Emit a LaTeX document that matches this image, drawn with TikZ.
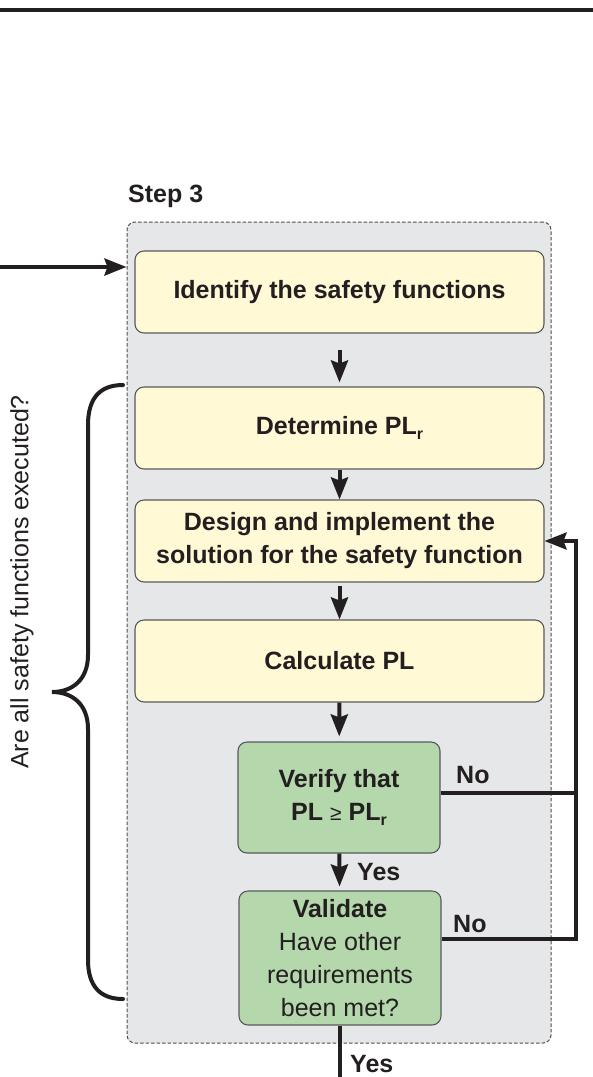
\documentclass[tikz,border=0pt]{standalone}
\usepackage{fontspec}
\setmainfont{Liberation Sans}
\usetikzlibrary{arrows.meta,calc}
\definecolor{ink}{HTML}{231F20}
\definecolor{boxyellow}{HTML}{FFF9D6}
\definecolor{boxgreen}{HTML}{B4D8AC}
\definecolor{panelgray}{HTML}{E6E7E8}
\definecolor{edgegray}{HTML}{58595B}
\definecolor{dashgray}{HTML}{4D4D4F}
\newcommand{\subr}{\raisebox{-0.22em}{\fontsize{16}{16}\selectfont r}}
\begin{document}
\begin{tikzpicture}[x=1pt,y=-1pt,
  yellowbox/.style={draw=edgegray, line width=1.1pt, fill=boxyellow, rounded corners=9pt,
    minimum width=409pt, minimum height=82pt, text=ink,
    font=\fontsize{25}{33}\selectfont\bfseries, align=center, inner sep=0pt},
  greenbox/.style={yellowbox, fill=boxgreen, minimum width=202pt},
  panel/.style={draw=dashgray, line width=1pt, dash pattern=on 3.5pt off 2pt, fill=panelgray,
    rounded corners=8pt, minimum width=424pt, minimum height=821pt, inner sep=0pt},
  flow/.style={draw=ink, line width=4pt, -{Stealth[length=22pt,width=17pt,inset=3pt]}},
  wire/.style={draw=ink, line width=3.6pt, line join=miter},
  lbl/.style={font=\fontsize{25}{30}\selectfont\bfseries, text=ink, inner sep=0pt}
]
\useasboundingbox (0,0) rectangle (593,1077);
\fill[ink] (0,8) rectangle (593,12);

\node[lbl, anchor=base west] (step) at (128,202) {Step 3};
\node[panel] (cont) at (339,632.5) {};

\node[yellowbox] (b1) at (339.5,292) {Identify the safety functions};
\node[yellowbox] (b2) at (339.5,428) {Determine PL\subr};
\node[yellowbox] (b3) at (339.5,541) {Design and implement the\\solution for the safety function};
\node[yellowbox] (b4) at (339.5,661) {Calculate PL};
\node[greenbox, minimum height=111pt] (b5) at (339,797.5) {Verify that\\PL {\mdseries\fontsize{21}{21}\selectfont ≥} PL\subr};
\node[greenbox, minimum height=134pt] (b6) at (340,958) {Validate\\\mdseries Have other\\\mdseries requirements\\\mdseries been met?};

% entry arrow
\coordinate (src) at (0,267);
\draw[flow] (src) -- (src -| cont.west);

% main flow
\draw[flow, shorten <=16pt, shorten >=4pt] (b1) -- (b2);
\draw[flow] (b2) -- (b3);
\draw[flow, shorten <=3pt] (b3) -- (b4);
\draw[flow, shorten >=5pt] (b4) -- (b5);
\draw[flow, shorten >=4pt] (b5) -- (b6);
\node[lbl, anchor=base west] (yes1) at (357,880) {Yes};

\coordinate (out) at (340,1077);
\draw[wire] (b6) -- (out);
\node[lbl, anchor=base west] (yes2) at (350,1072) {Yes};

% No loops
\coordinate (loop) at (576,541);
\draw[wire] ([yshift=4.5pt]b5.east) -- ([yshift=4.5pt]b5.east -| loop);
\draw[wire, -{Stealth[length=22pt,width=17pt,inset=3pt]}] ([yshift=19pt]b6.east) -| (loop) -- (b3.east);
\node[lbl, anchor=base west] (no1) at (456,783) {No};
\node[lbl, anchor=base west] (no2) at (453,932) {No};

% brace and question
\draw[ink, line width=4pt, line cap=round]
  (123,385) .. controls (100,385) and (88,398) .. (88,425) -- (88,655)
  .. controls (88,680) and (72,692) .. (52,692)
  .. controls (72,692) and (88,704) .. (88,729) -- (88,960)
  .. controls (88,986) and (100,999) .. (123,999);
\node[rotate=90, font=\fontsize{25}{30}\selectfont, text=ink, inner sep=0pt] (q) at (22,582) {Are all safety functions executed?};
\end{tikzpicture}
\end{document}
